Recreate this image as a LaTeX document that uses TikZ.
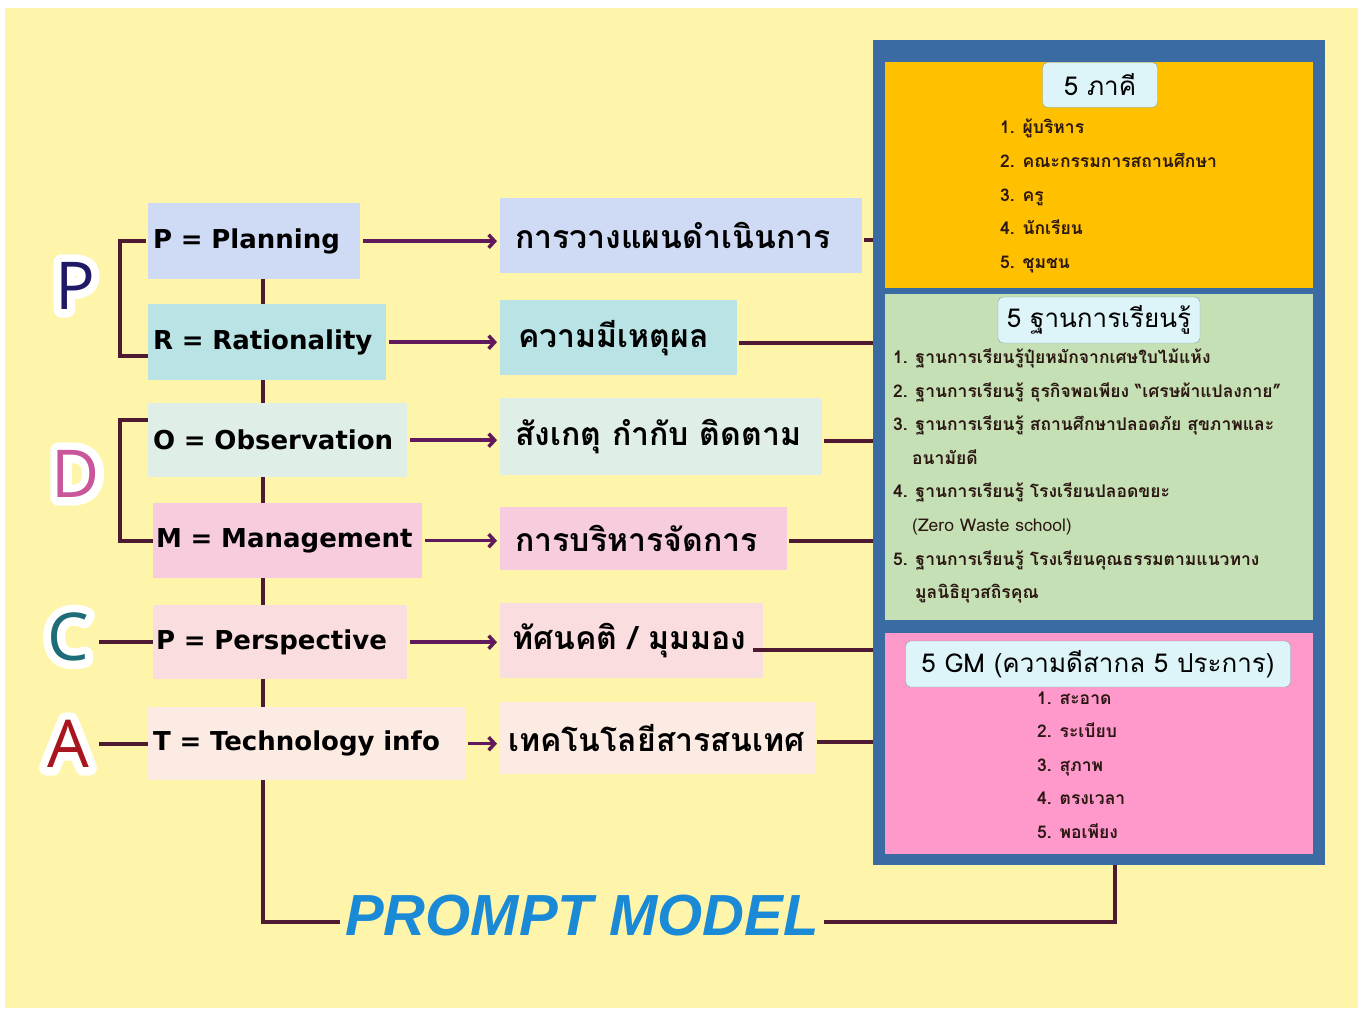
\documentclass[tikz,border=0pt]{standalone}
\usepackage{fontspec}
\usetikzlibrary{arrows.meta}
\setmainfont{DejaVu Sans}
\newfontfamily\thaifont[Script=Thai]{Loma}
\newfontfamily\letterfont{Open Sans}
\newfontfamily\modelfont{Liberation Sans}
\newcommand\glowletter[1]{\rlap{\special{pdf:literal direct 1 Tr 16 w 1 j 1 1 1 RG}#1\special{pdf:literal direct 0 Tr}}#1}
\definecolor{bgyellow}{HTML}{FFF5AA}
\definecolor{cplan}{HTML}{CFDAF5}
\definecolor{creason}{HTML}{B9E3E4}
\definecolor{cobserve}{HTML}{DFEEE6}
\definecolor{cmanage}{HTML}{F8CCDF}
\definecolor{cview}{HTML}{FADDDF}
\definecolor{ctech}{HTML}{FCEBE2}
\definecolor{cline}{HTML}{4D1A32}
\definecolor{carrow}{HTML}{601A5C}
\definecolor{cframe}{HTML}{3A6BA3}
\definecolor{corange}{HTML}{FFC000}
\definecolor{cgreen}{HTML}{C6E0B5}
\definecolor{cpink}{HTML}{FF99CC}
\definecolor{chead}{HTML}{DDF5F8}
\definecolor{cedge}{HTML}{7F9FA5}
\definecolor{citem}{HTML}{2B1712}
\definecolor{cmodel}{HTML}{1A8AD6}
\definecolor{cP}{HTML}{1F1A66}
\definecolor{cD}{HTML}{C9559A}
\definecolor{cC}{HTML}{1E6C77}
\definecolor{cA}{HTML}{A8151F}
\begin{document}
\begin{tikzpicture}[x=1pt,y=-1pt,
  lbox/.style={anchor=north west,inner xsep=5pt,inner ysep=0pt,align=left,font=\bfseries\fontsize{26}{30}\selectfont},
  mbox/.style={anchor=north west,inner xsep=15pt,inner ysep=0pt,align=left,font=\thaifont\bfseries\fontsize{32}{36}\selectfont},
  big/.style={font=\letterfont\fontsize{66}{70}\selectfont,inner sep=0pt},
  link/.style={line width=4pt,color=cline},
  spine line/.style={line width=4pt,color=cline},
  go/.style={line width=3.5pt,color=carrow,-{Straight Barb[length=6pt,width=13pt]},shorten <=3pt,shorten >=3pt},
  panel/.style={anchor=north west,inner sep=0pt,minimum width=428pt},
  head/.style={draw=cedge,fill=chead,rounded corners=5pt,font=\thaifont\fontsize{26}{30}\selectfont,inner sep=0pt},
  items/.style={anchor=west,align=left,inner sep=0pt,text=citem,font=\thaifont\bfseries\fontsize{17.5}{33.6}\selectfont}]
\fill[white] (0,0) rectangle (1363,1011);
\fill[bgyellow] (5,8) rectangle (1358,1008);
\useasboundingbox (0,0) rectangle (1363,1011);
\node[fill=cframe,minimum width=452pt,minimum height=825pt,inner sep=0pt,anchor=north west] (board) at (873,40) {};
\node[panel,fill=corange,minimum height=226pt] (phaki) at (885,62) {};
\node[panel,fill=cgreen,minimum height=326pt] (pbase) at (885,294) {};
\node[panel,fill=cpink,minimum height=221pt] (pgood) at (885,633) {};
\node[head,minimum width=115pt,minimum height=45pt] (phakihead) at (1100,85) {5 ภาคี};
\node[head,minimum width=202pt,minimum height=46pt] (pbasehead) at (1099,320) {5 ฐานการเรียนรู้};
\node[head,minimum width=385pt,minimum height=46pt] (pgoodhead) at (1098,664) {5 GM (ความดีสากล 5 ประการ)};
\node[items] (phakilist) at (1000,196) {1. ผู้บริหาร\\2. คณะกรรมการสถานศึกษา\\3. ครู\\4. นักเรียน\\5. ชุมชน};
\node[items] (pbaselist) at (893,476) {1. ฐานการเรียนรู้ปุ๋ยหมักจากเศษใบไม้แห้ง\\2. ฐานการเรียนรู้ ธุรกิจพอเพียง “เศรษผ้าแปลงกาย”\\3. ฐานการเรียนรู้ สถานศึกษาปลอดภัย สุขภาพและ\\\hspace*{19pt}อนามัยดี\\4. ฐานการเรียนรู้ โรงเรียนปลอดขยะ\\\hspace*{19pt}{\mdseries (Zero Waste school)}\\5. ฐานการเรียนรู้ โรงเรียนคุณธรรมตามแนวทาง\\\hspace*{22pt}มูลนิธิยุวสถิรคุณ};
\node[items] (pgoodlist) at (1037,765) {1. สะอาด\\2. ระเบียบ\\3. สุภาพ\\4. ตรงเวลา\\5. พอเพียง};
\node[lbox,fill=cplan,text width=202pt,minimum height=76pt] (plan) at (148,203) {P = Planning};
\node[lbox,fill=creason,text width=228pt,minimum height=76pt] (reason) at (148,304) {R = Rationality};
\node[lbox,fill=cobserve,text width=249pt,minimum height=74pt] (observe) at (148,403) {O = Observation};
\node[lbox,fill=cmanage,inner xsep=3pt,text width=263pt,minimum height=75pt] (manage) at (153,503) {M = Management};
\node[lbox,fill=cview,inner xsep=3pt,text width=248pt,minimum height=74pt] (view) at (153,605) {P = Perspective};
\node[lbox,fill=ctech,text width=307pt,minimum height=73pt] (tech) at (148,707) {T = Technology info};
\node[mbox,fill=cplan,text width=332pt,minimum height=75pt] (planth) at (500,198) {การวางแผนดำเนินการ};
\node[mbox,fill=creason,inner xsep=18pt,text width=201pt,minimum height=75pt] (reasonth) at (500,300) {ความมีเหตุผล};
\node[mbox,fill=cobserve,text width=292pt,minimum height=77pt] (observeth) at (500,398) {สังเกตุ กำกับ ติดตาม};
\node[mbox,fill=cmanage,text width=257pt,minimum height=63pt] (manageth) at (500,507) {การบริหารจัดการ};
\node[mbox,fill=cview,inner xsep=12pt,text width=239pt,minimum height=75pt] (viewth) at (500,603) {ทัศนคติ / มุมมอง};
\node[mbox,fill=ctech,inner xsep=8pt,text width=299pt,minimum height=72pt] (techth) at (500,702) {เทคโนโลยีสารสนเทศ};
\node[big,text=cP] (pletter) at (75,286) {\glowletter{P}};
\node[big,text=cD] (dletter) at (76,474) {\glowletter{D}};
\node[big,text=cC] (cletter) at (68,637) {\glowletter{C}};
\node[big,text=cA] (aletter) at (68,744) {\glowletter{A}};
\node[font=\modelfont\bfseries\itshape\fontsize{58}{60}\selectfont,text=cmodel,inner sep=5pt] (model) at (582,916) {PROMPT MODEL};
\coordinate (spine) at (263,0);
\coordinate (turn) at (1115,0);
\draw[go] (plan.east) -- (plan.east -| planth.west);
\draw[go] (reason.east) -- (reason.east -| reasonth.west);
\draw[go] (observe.east) -- (observe.east -| observeth.west);
\draw[go] (manage.east) -- (manage.east -| manageth.west);
\draw[go] (view.east) -- (view.east -| viewth.west);
\draw[go] (tech.east) -- (tech.east -| techth.west);
\draw[link,shorten <=2pt] ([yshift=-4pt]planth.east) -- ([yshift=-4pt]planth.east -| board.west);
\draw[link,shorten <=2pt] ([yshift=-5pt]reasonth.east) -- ([yshift=-5pt]reasonth.east -| board.west);
\draw[link,shorten <=2pt] ([yshift=-4pt]observeth.east) -- ([yshift=-4pt]observeth.east -| board.west);
\draw[link,shorten <=2pt] ([yshift=-2pt]manageth.east) -- ([yshift=-2pt]manageth.east -| board.west);
\draw[link] ([xshift=-10pt,yshift=-9pt]viewth.east) -- ([yshift=-9pt]viewth.east -| board.west);
\draw[link,shorten <=2pt] ([yshift=-4pt]techth.east) -- ([yshift=-4pt]techth.east -| board.west);
\draw[spine line] ([xshift=-2pt]plan.west) -- ++(-26,0) |- ([yshift=-14pt]reason.west);
\draw[spine line] ([yshift=20pt]observe.west) -- ++(-28,0) |- (manage.west);
\draw[link,shorten <=10pt] (cletter.east |- view.west) -- (view.west);
\draw[link,shorten <=10pt] (aletter.east |- tech.west) -- (tech.west);
\foreach \a/\b in {plan/reason,reason/observe,observe/manage,manage/view,view/tech}
  \draw[spine line] (spine |- \a.south) -- (spine |- \b.north);
\draw[spine line] (spine |- tech.south) |- ([yshift=-6pt]model.west);
\draw[spine line] ([yshift=-6pt]model.east) -| (turn |- board.south);
\end{tikzpicture}
\end{document}
